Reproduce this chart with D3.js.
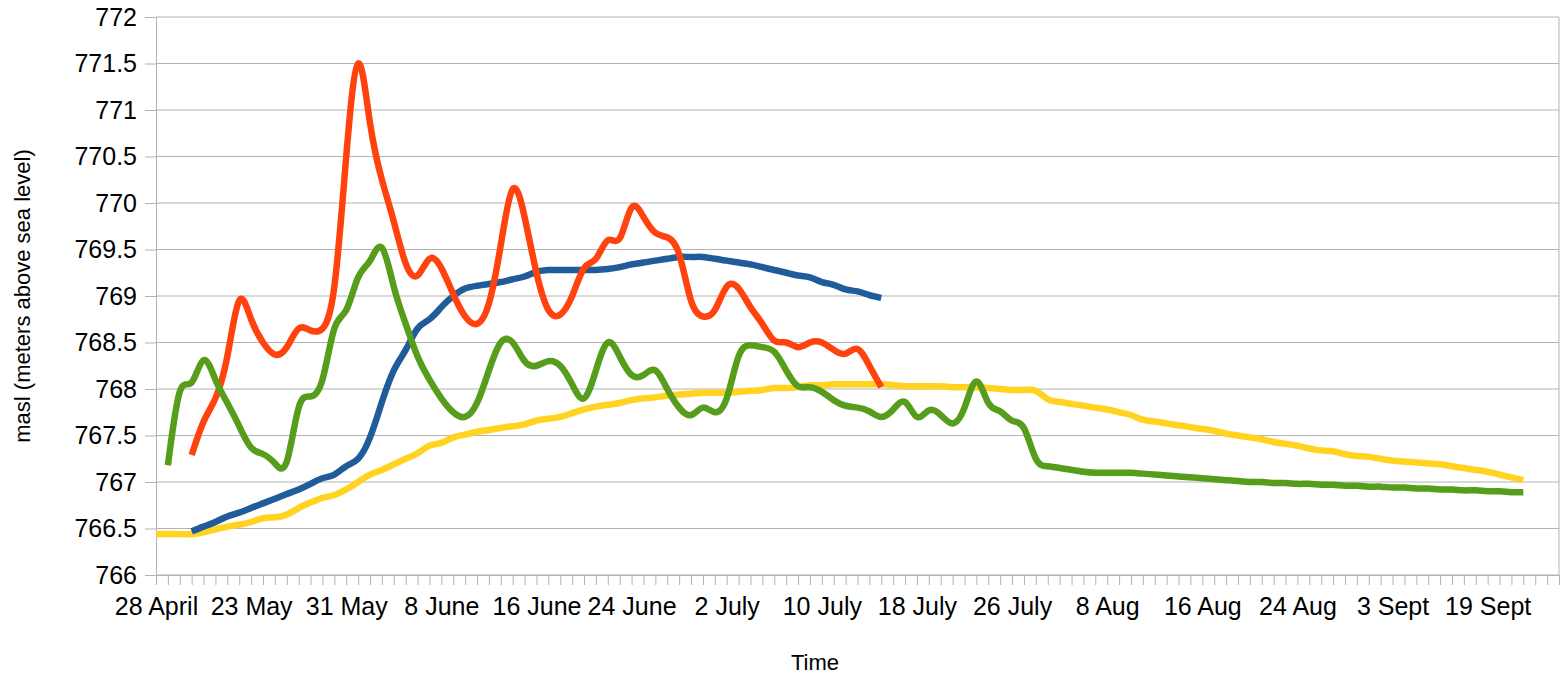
<!DOCTYPE html>
<html>
<head>
<meta charset="utf-8">
<script src="https://cdn.jsdelivr.net/npm/d3@7"></script>
<style>
  body { margin: 0; background: #fff; }
  text { font-family: "Liberation Sans", Arial, sans-serif; fill: #000; }
</style>
</head>
<body>
<svg id="chart" width="1565" height="679"></svg>
<script>
// categories are the sample days on the x axis, only every 8th one is labelled
const nCategories = 119;
const labelStep = 8;
const tickLabels = ["28 April", "23 May", "31 May", "8 June", "16 June", "24 June", "2 July",
  "10 July", "18 July", "26 July", "8 Aug", "16 Aug", "24 Aug", "3 Sept", "19 Sept"];
const yTicks = [766, 766.5, 767, 767.5, 768, 768.5, 769, 769.5, 770, 770.5, 771, 771.5, 772];

// each series: first category index + one value per category
const blueStart = 3;
const blueValues = [
  766.47, 766.52, 766.57, 766.63, 766.67, 766.72, 766.77, 766.82, 766.87, 766.92,
  766.98, 767.04, 767.08, 767.17, 767.25, 767.48, 767.86, 768.2, 768.42, 768.65,
  768.75, 768.88, 769.0, 769.08, 769.11, 769.13, 769.15, 769.18, 769.21, 769.26,
  769.28, 769.28, 769.28, 769.28, 769.28, 769.29, 769.31, 769.34, 769.36, 769.38,
  769.4, 769.42, 769.42, 769.42, 769.4, 769.38, 769.36, 769.34, 769.31, 769.28,
  769.25, 769.22, 769.2, 769.15, 769.12, 769.07, 769.05, 769.01, 768.98
];

const orangeStart = 3;
const orangeValues = [
  767.29, 767.65, 767.9, 768.35, 768.95, 768.75, 768.5, 768.37, 768.45, 768.65,
  768.63, 768.65, 769.1, 770.5, 771.5, 770.86, 770.25, 769.8, 769.35, 769.22,
  769.4, 769.3, 769.02, 768.78, 768.7, 768.92, 769.55, 770.15, 769.85, 769.25,
  768.85, 768.8, 769.0, 769.3, 769.4, 769.6, 769.62, 769.95, 769.85, 769.68,
  769.63, 769.45, 768.95, 768.78, 768.85, 769.1, 769.08, 768.88, 768.7, 768.52,
  768.5, 768.45, 768.5, 768.5, 768.42, 768.38, 768.43, 768.25, 768.02
];

const yellowStart = 0;
const yellowValues = [
  766.44, 766.44, 766.44, 766.44, 766.46, 766.49, 766.52, 766.54, 766.57, 766.61,
  766.62, 766.65, 766.72, 766.78, 766.83, 766.86, 766.92, 767.0, 767.08, 767.13,
  767.19, 767.25, 767.31, 767.39, 767.42, 767.48, 767.51, 767.54, 767.56, 767.58,
  767.6, 767.62, 767.66, 767.68, 767.7, 767.74, 767.78, 767.81, 767.83, 767.85,
  767.88, 767.9, 767.91, 767.93, 767.94, 767.95, 767.96, 767.96, 767.96, 767.97,
  767.98, 767.99, 768.01, 768.01, 768.02, 768.04, 768.04, 768.05, 768.05, 768.05,
  768.05, 768.05, 768.04, 768.03, 768.03, 768.03, 768.03, 768.02, 768.02, 768.02,
  768.01, 768.0, 767.99, 767.99, 767.98, 767.89, 767.86, 767.84, 767.82, 767.8,
  767.78, 767.75, 767.72, 767.67, 767.65, 767.63, 767.61, 767.59, 767.57, 767.55,
  767.52, 767.5, 767.48, 767.46, 767.43, 767.41, 767.39, 767.36, 767.34, 767.33,
  767.3, 767.28, 767.27, 767.25, 767.23, 767.22, 767.21, 767.2, 767.19, 767.17,
  767.15, 767.13, 767.11, 767.08, 767.05, 767.02
];

const greenStart = 1;
const greenValues = [
  767.18, 767.97, 768.07, 768.31, 768.1, 767.85, 767.6, 767.37, 767.3, 767.2,
  767.22, 767.8, 767.92, 768.1, 768.65, 768.85, 769.2, 769.38, 769.52, 769.1,
  768.7, 768.35, 768.1, 767.9, 767.75, 767.7, 767.85, 768.2, 768.5, 768.5,
  768.3, 768.25, 768.3, 768.25, 768.05, 767.9, 768.2, 768.5, 768.35, 768.15,
  768.15, 768.2, 768.0, 767.8, 767.72, 767.8, 767.75, 767.9, 768.35, 768.47,
  768.45, 768.4, 768.2, 768.03, 768.02, 767.97, 767.88, 767.82, 767.8, 767.76,
  767.7, 767.78, 767.86, 767.7, 767.77, 767.72, 767.63, 767.8, 768.08, 767.85,
  767.76, 767.66, 767.58, 767.25, 767.17, 767.15, 767.13, 767.11, 767.1, 767.1,
  767.1, 767.1, 767.09, 767.08, 767.07, 767.06, 767.05, 767.04, 767.03, 767.02,
  767.01, 767.0, 767.0, 766.99, 766.99, 766.98, 766.98, 766.97, 766.97, 766.96,
  766.96, 766.95, 766.95, 766.94, 766.94, 766.93, 766.93, 766.92, 766.92, 766.91,
  766.91, 766.9, 766.9, 766.89, 766.89
];

// drawing order: yellow at the back, green on top
const series = [
  { name: "yellow", color: "#ffd320", start: yellowStart, values: yellowValues },
  { name: "blue", color: "#1f5c99", start: blueStart, values: blueValues },
  { name: "orange", color: "#ff420e", start: orangeStart, values: orangeValues },
  { name: "green", color: "#579d1c", start: greenStart, values: greenValues }
];

const plot = { left: 156, right: 1559, top: 17, bottom: 575 };
const gridColor = "#b3b3b3";

const svg = d3.select("#chart");

const x = d3.scalePoint()
  .domain(d3.range(nCategories))
  .range([plot.left, plot.right]);

const y = d3.scaleLinear()
  .domain([766, 772])
  .range([plot.bottom, plot.top]);

// horizontal grid lines
svg.append("g")
  .selectAll("line")
  .data(yTicks)
  .join("line")
    .attr("x1", plot.left)
    .attr("x2", plot.right)
    .attr("y1", d => y(d))
    .attr("y2", d => y(d))
    .attr("stroke", gridColor)
    .attr("stroke-width", 1);

// right wall
svg.append("line")
  .attr("x1", plot.right).attr("x2", plot.right)
  .attr("y1", plot.top).attr("y2", plot.bottom)
  .attr("stroke", gridColor);

const yAxis = svg.append("g")
  .attr("transform", `translate(${plot.left},0)`)
  .call(d3.axisLeft(y).tickValues(yTicks).tickSize(11).tickPadding(8).tickFormat(d => d));

const xAxis = svg.append("g")
  .attr("transform", `translate(0,${plot.bottom})`)
  .call(d3.axisBottom(x)
    .tickSize(10)
    .tickSizeOuter(0)
    .tickPadding(12)
    .tickFormat(i => i % labelStep === 0 ? (tickLabels[i / labelStep] || "") : ""));

[yAxis, xAxis].forEach(g => {
  g.selectAll("path, line").attr("stroke", gridColor);
  g.selectAll("text")
    .attr("font-size", 25)
    .attr("font-family", '"Liberation Sans", Arial, sans-serif')
    .attr("fill", "#000");
});

const line = d3.line()
  .x(d => x(d.i))
  .y(d => y(d.v))
  .curve(d3.curveNatural);

svg.append("g")
  .attr("fill", "none")
  .attr("stroke-width", 6.5)
  .attr("stroke-linejoin", "round")
  .selectAll("path")
  .data(series)
  .join("path")
    .attr("stroke", d => d.color)
    .attr("d", d => line(d.values.map((v, k) => ({ i: d.start + k, v }))));

// axis titles
svg.append("text")
  .attr("transform", `translate(30,${(plot.top + plot.bottom) / 2}) rotate(-90)`)
  .attr("text-anchor", "middle")
  .attr("font-size", 22)
  .text("masl (meters above sea level)");

svg.append("text")
  .attr("x", 815)
  .attr("y", 670)
  .attr("text-anchor", "middle")
  .attr("font-size", 22)
  .text("Time");
</script>
</body>
</html>
